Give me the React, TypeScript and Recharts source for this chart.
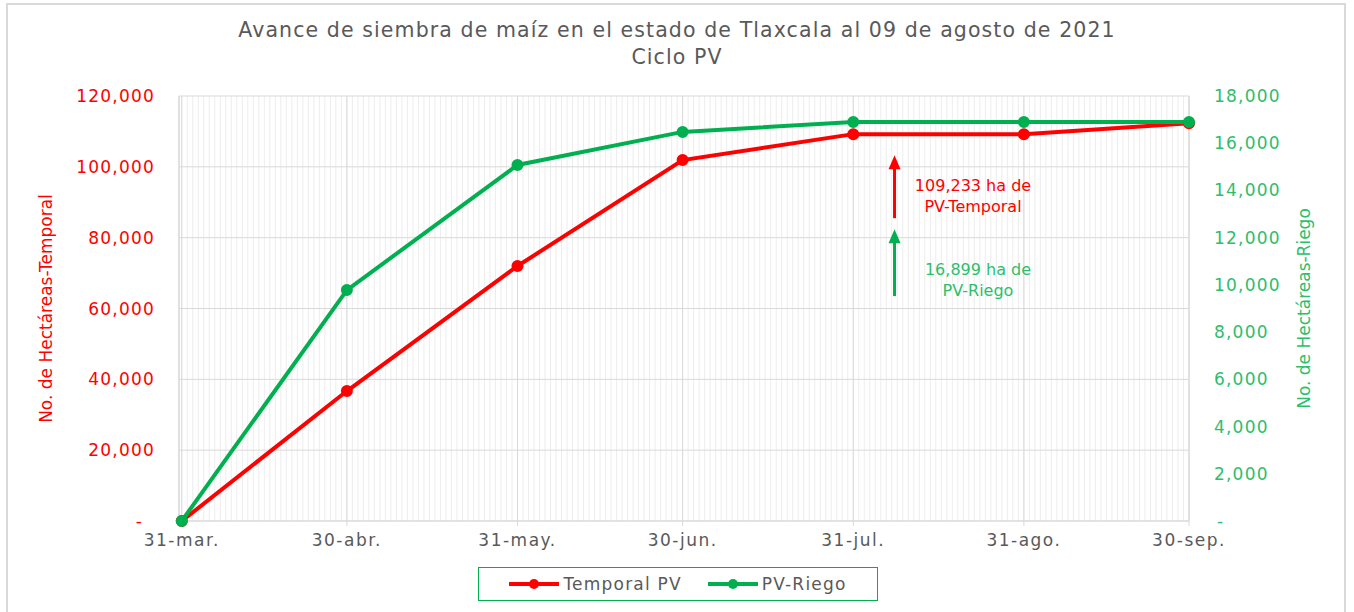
import { LineChart, Line, XAxis, YAxis, CartesianGrid, ReferenceLine } from "recharts";

const RED = "#FF0000";
const GREEN = "#00B050";
const GREEN_TEXT = "#2DBE6C";
const GRID_MAJOR = "#D9D9D9";
const GRID_MINOR = "#EDEDED";
const TEXT = "#595959";
const FONT = "'DejaVu Sans', sans-serif";

// days counted from 31-mar
const DAYS = [0, 30, 61, 91, 122, 153, 183];
const DATE_LABELS = ["31-mar.", "30-abr.", "31-may.", "30-jun.", "31-jul.", "31-ago.", "30-sep."];
const TEMPORAL = [0, 36700, 72000, 101900, 109233, 109233, 112300];
const RIEGO = [0, 9780, 15080, 16480, 16899, 16899, 16899];

const LEFT_TICKS = [0, 20000, 40000, 60000, 80000, 100000, 120000];
const RIGHT_TICKS = [0, 2000, 4000, 6000, 8000, 10000, 12000, 14000, 16000, 18000];

const data = DAYS.map((day, i) => ({
  day,
  label: DATE_LABELS[i],
  temporal: TEMPORAL[i],
  riego: RIEGO[i],
}));

const minorDays = Array.from({ length: DAYS[DAYS.length - 1] + 1 }, (_, i) => i);

const fmt = (v: number) => v.toLocaleString("en-US");

function LeftTick(props: any) {
  const { x, y, payload } = props;
  const v = payload.value as number;
  return (
    <text x={v === 0 ? x - 12 : x} y={y} dy={6} textAnchor="end" fill={RED} fontSize={17} letterSpacing={1.2} fontFamily={FONT}>
      {v === 0 ? "-" : fmt(v)}
    </text>
  );
}

function RightTick(props: any) {
  const { x, y, payload } = props;
  const v = payload.value as number;
  return (
    <text x={v === 0 ? x + 3 : x} y={y} dy={6} textAnchor="start" fill={GREEN_TEXT} fontSize={17} letterSpacing={1.2} fontFamily={FONT}>
      {v === 0 ? "-" : fmt(v)}
    </text>
  );
}

function DateTick(props: any) {
  const { x, y, payload } = props;
  return (
    <text x={x} y={y} dy={14} textAnchor="middle" fill={TEXT} fontSize={17} letterSpacing={1.5} fontFamily={FONT}>
      {DATE_LABELS[DAYS.indexOf(payload.value)]}
    </text>
  );
}

function Arrow(color: string) {
  return (props: any) => {
    const { x1, y1, x2, y2 } = props;
    return (
      <g>
        <line x1={x1} y1={y1} x2={x2} y2={y2 + 12} stroke={color} strokeWidth={3} />
        <polygon points={`${x2 - 6},${y2 + 14} ${x2 + 6},${y2 + 14} ${x2},${y2}`} fill={color} />
      </g>
    );
  };
}

export default function App() {
  return (
    <div style={{ position: "absolute", left: 0, top: 0, width: 1354, height: 612, background: "#fff", overflow: "hidden", fontFamily: FONT }}>
      <div style={{ position: "absolute", left: 6, top: 3, width: 1340, height: 640, border: "2px solid #D9D9D9", boxSizing: "border-box" }} />
      <div style={{ position: "absolute", left: 0, width: 1354, top: 17, textAlign: "center", color: TEXT, fontSize: 20.5, letterSpacing: 1.1, lineHeight: "27px" }}>
        Avance de siembra de maíz en el estado de Tlaxcala al 09 de agosto de 2021
        <br />
        Ciclo PV
      </div>
      <div style={{ position: "absolute", left: 0, top: 0 }}>
        <LineChart width={1354} height={612} data={data} margin={{ top: 96, right: 65, bottom: 61, left: 79 }}>
          <XAxis xAxisId="minor" dataKey="day" type="number" domain={[-0.5, 183]} ticks={minorDays} interval={0} hide />
          <CartesianGrid xAxisId="minor" yAxisId="left" horizontal={false} stroke={GRID_MINOR} />
          <CartesianGrid yAxisId="left" stroke={GRID_MAJOR} />
          <XAxis
            dataKey="day"
            type="number"
            domain={[-0.5, 183]}
            ticks={DAYS}
            interval={0}
            height={30}
            tickSize={5}
            tickMargin={6}
            axisLine={{ stroke: GRID_MAJOR }}
            tickLine={{ stroke: GRID_MAJOR }}
            tick={<DateTick />}
          />
          <YAxis
            yAxisId="left"
            domain={[0, 120000]}
            ticks={LEFT_TICKS}
            width={100}
            tickSize={0}
            tickMargin={24}
            axisLine={{ stroke: GRID_MAJOR }}
            tickLine={false}
            tick={<LeftTick />}
            label={{ value: "No. de Hectáreas-Temporal", angle: -90, position: "insideLeft", offset: -33, fill: RED, fontSize: 17, fontFamily: FONT, style: { textAnchor: "middle" } }}
          />
          <YAxis
            yAxisId="right"
            orientation="right"
            domain={[0, 18000]}
            ticks={RIGHT_TICKS}
            width={100}
            tickSize={0}
            tickMargin={25}
            axisLine={{ stroke: GRID_MAJOR }}
            tickLine={false}
            tick={<RightTick />}
            label={{ value: "No. de Hectáreas-Riego", angle: -90, position: "insideRight", offset: -15, fill: GREEN_TEXT, fontSize: 17, fontFamily: FONT, style: { textAnchor: "middle" } }}
          />
          <ReferenceLine yAxisId="left" segment={[{ x: 129.5, y: 85500 }, { x: 129.5, y: 103300 }]} shape={Arrow(RED)} />
          <ReferenceLine yAxisId="left" segment={[{ x: 129.5, y: 63500 }, { x: 129.5, y: 82400 }]} shape={Arrow(GREEN)} />
          <Line yAxisId="left" dataKey="temporal" stroke={RED} strokeWidth={4} dot={{ r: 5, fill: RED, stroke: RED, strokeWidth: 2 }} isAnimationActive={false} />
          <Line yAxisId="right" dataKey="riego" stroke={GREEN} strokeWidth={4} dot={{ r: 5, fill: GREEN, stroke: GREEN, strokeWidth: 2 }} isAnimationActive={false} />
        </LineChart>
      </div>
      <div style={{ position: "absolute", left: 898, top: 175, width: 150, textAlign: "center", color: RED, fontSize: 16, lineHeight: "21px" }}>
        109,233 ha de
        <br />
        PV-Temporal
      </div>
      <div style={{ position: "absolute", left: 903, top: 259, width: 150, textAlign: "center", color: GREEN_TEXT, fontSize: 16, lineHeight: "21px" }}>
        16,899 ha de
        <br />
        PV-Riego
      </div>
      <div
        style={{
          position: "absolute",
          left: 478,
          top: 567,
          width: 400,
          height: 34,
          border: `1px solid ${GREEN}`,
          boxSizing: "border-box",
          display: "flex",
          alignItems: "center",
          justifyContent: "center",
          gap: 26,
          color: TEXT,
          fontSize: 17,
          letterSpacing: 1.2,
        }}
      >
        {[
          { name: "Temporal PV", color: RED },
          { name: "PV-Riego", color: GREEN },
        ].map((s) => (
          <div key={s.name} style={{ display: "flex", alignItems: "center", gap: 4 }}>
            <svg width={50} height={12}>
              <line x1={0} y1={6} x2={50} y2={6} stroke={s.color} strokeWidth={4} />
              <circle cx={25} cy={6} r={5} fill={s.color} />
            </svg>
            <span>{s.name}</span>
          </div>
        ))}
      </div>
    </div>
  );
}
